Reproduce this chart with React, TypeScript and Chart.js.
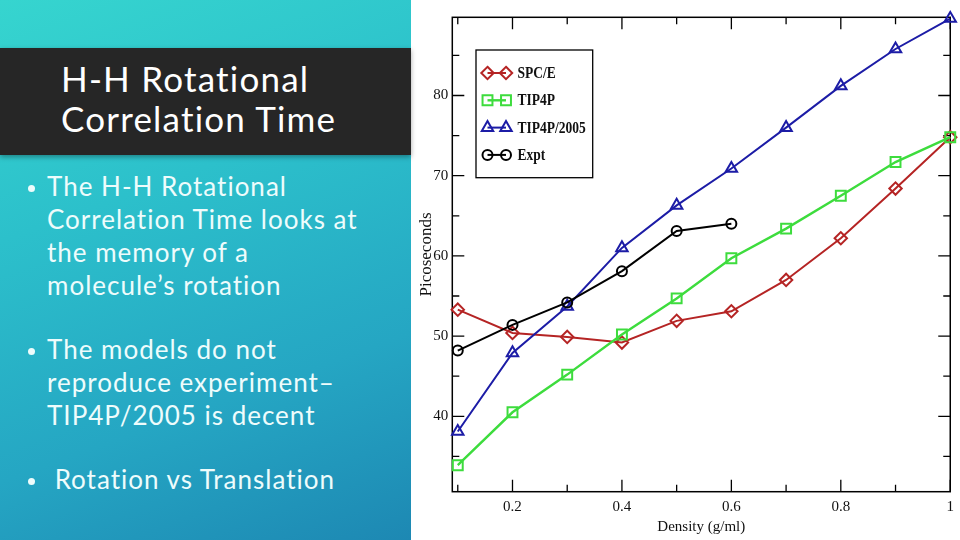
import React, { useEffect, useRef } from 'react';
import { Chart, registerables } from 'chart.js';

Chart.register(...registerables);

// ---------- data ----------
const densities = [0.1, 0.2, 0.3, 0.4, 0.5, 0.6, 0.7, 0.8, 0.9, 1.0];
const exptDensities = [0.1, 0.2, 0.3, 0.4, 0.5, 0.6];
const spceValues = [53.3, 50.4, 49.9, 49.2, 51.9, 53.1, 57.0, 62.2, 68.4, 74.8];
const tip4pValues = [33.9, 40.5, 45.2, 50.2, 54.7, 59.7, 63.4, 67.5, 71.7, 74.8];
const tip4p2005Values = [38.1, 47.9, 53.7, 61.0, 66.3, 70.9, 76.0, 81.2, 85.8, 89.6];
const exptValues = [48.2, 51.4, 54.2, 58.1, 63.1, 64.0];
const seriesLabels = ['SPC/E', 'TIP4P', 'TIP4P/2005', 'Expt'];

const xMajorTicks = [0.2, 0.4, 0.6, 0.8, 1];
const xMinorTicks = [0.1, 0.3, 0.5, 0.7, 0.9];
const yMajorTicks = [40, 50, 60, 70, 80];
const yMinorTicks = [35, 45, 55, 65, 75, 85];

const titleLines = ['H-H Rotational', 'Correlation Time'];
const bullet1 = ['The H-H Rotational', 'Correlation Time looks at', 'the memory of a', 'molecule\u2019s rotation'];
const bullet2 = ['The models do not', 'reproduce experiment\u2013', 'TIP4P/2005 is decent'];
const bullet3 = [' Rotation vs Translation'];

// ---------- helpers ----------
const toPoints = (xs: number[], ys: number[]) => xs.map((x, i) => ({ x, y: ys[i] }));

function drawMarker(ctx: CanvasRenderingContext2D, style: string, x: number, y: number, r: number) {
  ctx.beginPath();
  if (style === 'circle') {
    ctx.arc(x, y, r, 0, Math.PI * 2);
  } else if (style === 'rect') {
    const s = r * Math.SQRT1_2;
    ctx.rect(x - s, y - s, 2 * s, 2 * s);
  } else if (style === 'rectRot') {
    ctx.moveTo(x, y - r);
    ctx.lineTo(x + r, y);
    ctx.lineTo(x, y + r);
    ctx.lineTo(x - r, y);
    ctx.closePath();
  } else if (style === 'triangle') {
    for (let k = 0; k < 3; k++) {
      const a = (k * 2 * Math.PI) / 3;
      const px = x + Math.sin(a) * r;
      const py = y - Math.cos(a) * r;
      if (k === 0) ctx.moveTo(px, py);
      else ctx.lineTo(px, py);
    }
    ctx.closePath();
  }
  ctx.stroke();
}

const frameTicksPlugin = {
  id: 'frameTicks',
  beforeDatasetsDraw(chart: any) {
    const { ctx, chartArea: a, scales } = chart;
    const xs = scales.x;
    const ys = scales.y;
    ctx.save();
    ctx.strokeStyle = '#000';
    ctx.lineWidth = 1.5;
    ctx.strokeRect(a.left, a.top, a.right - a.left, a.bottom - a.top);
    ctx.lineWidth = 1.3;
    const xt = (vals: number[], len: number) => {
      vals.forEach((v) => {
        const p = xs.getPixelForValue(v);
        ctx.beginPath();
        ctx.moveTo(p, a.bottom);
        ctx.lineTo(p, a.bottom - len);
        ctx.moveTo(p, a.top);
        ctx.lineTo(p, a.top + len);
        ctx.stroke();
      });
    };
    const yt = (vals: number[], len: number) => {
      vals.forEach((v) => {
        const p = ys.getPixelForValue(v);
        ctx.beginPath();
        ctx.moveTo(a.left, p);
        ctx.lineTo(a.left + len, p);
        ctx.moveTo(a.right, p);
        ctx.lineTo(a.right - len, p);
        ctx.stroke();
      });
    };
    xt(xMajorTicks, 12);
    xt(xMinorTicks, 7);
    yt(yMajorTicks, 12);
    yt(yMinorTicks, 7);
    ctx.restore();
  },
};

const boxLegendPlugin = {
  id: 'boxLegend',
  afterDatasetsDraw(chart: any) {
    const { ctx, chartArea: a } = chart;
    const left = a.left + 23.7;
    const top = a.top + 32.7;
    const w = 116.7;
    const h = 127.7;
    ctx.save();
    ctx.fillStyle = '#fff';
    ctx.fillRect(left, top, w, h);
    ctx.strokeStyle = '#000';
    ctx.lineWidth = 1.3;
    ctx.strokeRect(left, top, w, h);
    chart.data.datasets.forEach((ds: any, i: number) => {
      const y = top + 23 + i * 27.3;
      const x1 = left + 11.5;
      const x2 = left + 30;
      ctx.strokeStyle = ds.borderColor;
      ctx.lineWidth = ds.borderWidth;
      ctx.beginPath();
      ctx.moveTo(x1, y);
      ctx.lineTo(x2, y);
      ctx.stroke();
      ctx.lineWidth = ds.pointBorderWidth;
      drawMarker(ctx, ds.pointStyle, x1, y, ds.pointRadius);
      drawMarker(ctx, ds.pointStyle, x2, y, ds.pointRadius);
      ctx.save();
      ctx.translate(left + 41.5, y);
      ctx.scale(1, 1.3);
      ctx.fillStyle = '#111';
      ctx.font = 'bold 13.5px "Liberation Serif", "DejaVu Serif", serif';
      ctx.textBaseline = 'middle';
      ctx.textAlign = 'left';
      ctx.fillText(ds.label, 0, 0.5);
      ctx.restore();
    });
    ctx.restore();
  },
};

const serif = '"Liberation Serif", "DejaVu Serif", serif';

export default function App() {
  const canvasRef = useRef<HTMLCanvasElement>(null);

  useEffect(() => {
    const canvas = canvasRef.current;
    if (!canvas) return;
    const common = { tension: 0, fill: false, pointBackgroundColor: 'rgba(0,0,0,0)', pointBorderWidth: 2, clip: false };
    const chart = new Chart(canvas, {
      type: 'line',
      data: {
        datasets: [
          { ...common, label: seriesLabels[0], data: toPoints(densities, spceValues), borderColor: '#b52424', pointBorderColor: '#b52424', borderWidth: 2, pointStyle: 'rectRot', pointRadius: 6.2, order: 3 },
          { ...common, label: seriesLabels[1], data: toPoints(densities, tip4pValues), borderColor: '#3ddc3d', pointBorderColor: '#3ddc3d', borderWidth: 2.4, pointStyle: 'rect', pointRadius: 7, order: 2 },
          { ...common, label: seriesLabels[2], data: toPoints(densities, tip4p2005Values), borderColor: '#1c1ca6', pointBorderColor: '#1c1ca6', borderWidth: 2, pointStyle: 'triangle', pointRadius: 6.6, order: 1 },
          { ...common, label: seriesLabels[3], data: toPoints(exptDensities, exptValues), borderColor: '#000000', pointBorderColor: '#000000', borderWidth: 2, pointStyle: 'circle', pointRadius: 5, order: 0 },
        ] as any,
      },
      options: {
        animation: false,
        responsive: false,
        devicePixelRatio: 1,
        layout: { padding: { top: 17.3, right: 8.3, left: 0, bottom: 0 } },
        plugins: { legend: { display: false }, tooltip: { enabled: false } },
        scales: {
          x: {
            type: 'linear',
            min: 0.09,
            max: 1.0,
            afterBuildTicks: (s: any) => {
              s.ticks = xMajorTicks.map((v) => ({ value: v }));
            },
            afterFit: (s: any) => {
              s.height = 48.3;
            },
            ticks: {
              autoSkip: false,
              maxRotation: 0,
              padding: 6,
              color: '#111',
              font: { family: serif, size: 15 },
              callback: (v: any) => String(v),
            },
            grid: { display: false, drawTicks: false },
            border: { display: false },
            title: {
              display: true,
              text: 'Density (g/ml)',
              color: '#111',
              font: { family: serif, size: 15 },
              padding: { top: 0, bottom: 4 },
            },
          },
          y: {
            type: 'linear',
            min: 30.6,
            max: 89.75,
            afterBuildTicks: (s: any) => {
              s.ticks = yMajorTicks.map((v) => ({ value: v }));
            },
            afterFit: (s: any) => {
              s.width = 40.3;
            },
            ticks: {
              autoSkip: false,
              padding: 4,
              color: '#111',
              font: { family: serif, size: 15 },
              callback: (v: any) => String(v),
            },
            grid: { display: false, drawTicks: false },
            border: { display: false },
            title: {
              display: true,
              text: 'Picoseconds',
              color: '#111',
              font: { family: serif, size: 17 },
              padding: { top: 4, bottom: 0 },
            },
          },
        },
      } as any,
      plugins: [frameTicksPlugin, boxLegendPlugin],
    });
    return () => chart.destroy();
  }, []);

  const bodyFont: React.CSSProperties = {
    position: 'absolute',
    left: 0,
    fontFamily: 'Lato, "Open Sans", sans-serif',
    fontSize: 26,
    lineHeight: '32.7px',
    letterSpacing: '1px',
    color: '#eefcfc',
    whiteSpace: 'pre',
  };

  const renderBullet = (lines: string[], top: number, textLeft: number) => (
    <div style={{ ...bodyFont, top, width: 411 }}>
      <div
        style={{
          position: 'absolute',
          left: 28,
          top: 14.2,
          width: 7,
          height: 7,
          borderRadius: '50%',
          background: '#eefcfc',
        }}
      />
      <div style={{ position: 'absolute', left: textLeft, top: 0 }}>
        {lines.map((l, i) => (
          <div key={i}>{l}</div>
        ))}
      </div>
    </div>
  );

  return (
    <div
      style={{
        position: 'fixed',
        left: 0,
        top: 0,
        width: 960,
        height: 540,
        background: '#ffffff',
        overflow: 'hidden',
      }}
    >
      <div
        style={{
          position: 'absolute',
          left: 0,
          top: 0,
          width: 411,
          height: 540,
          background: 'linear-gradient(160deg, #36d5cf 0%, #2cc0cb 35%, #25a6c3 70%, #1d88b3 100%)',
        }}
      />
      <div
        style={{
          position: 'absolute',
          left: 0,
          top: 48,
          width: 411,
          height: 107,
          background: '#262626',
          boxShadow: '0 2px 5px rgba(0,0,0,0.35)',
        }}
      />
      <div
        style={{
          position: 'absolute',
          left: 61,
          top: 59.3,
          fontFamily: 'Lato, "Open Sans", sans-serif',
          fontSize: 35,
          lineHeight: '39.7px',
          letterSpacing: '1.2px',
          color: '#ffffff',
          whiteSpace: 'pre',
        }}
      >
        {titleLines.map((l, i) => (
          <div key={i}>{l}</div>
        ))}
      </div>
      {renderBullet(bullet1, 170.4, 47)}
      {renderBullet(bullet2, 333.4, 47)}
      {renderBullet(bullet3, 463.4, 47)}
      <canvas
        ref={canvasRef}
        width={548}
        height={540}
        style={{ position: 'absolute', left: 412, top: 0, width: 548, height: 540 }}
      />
    </div>
  );
}
